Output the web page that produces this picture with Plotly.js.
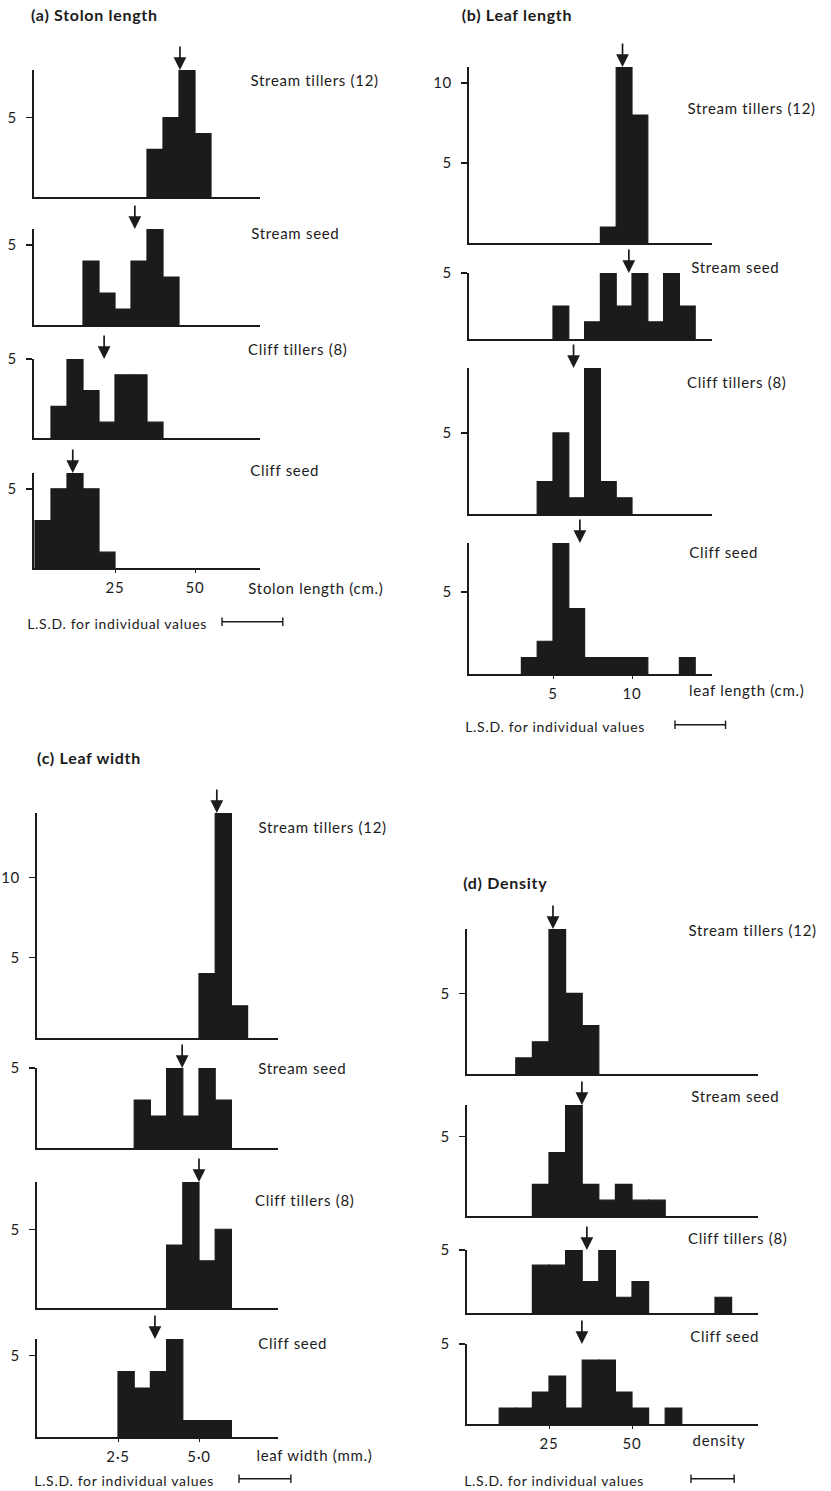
<!DOCTYPE html>
<html>
<head>
<meta charset="utf-8">
<script src="https://cdn.plot.ly/plotly-3.0.1.min.js"></script>
<style>
html,body{margin:0;padding:0;background:#fff}
#chart{width:831px;height:1491px}
#chart svg text{letter-spacing:0.7px}
</style>
</head>
<body>
<div id="chart"></div>
<script>
// ---------- DATA ----------
const panelTitles = ['(a) Stolon length', '(b) Leaf length', '(c) Leaf width', '(d) Density'];
const groupNames = ['Stream tillers (12)', 'Stream seed', 'Cliff tillers (8)', 'Cliff seed'];
const axisTitles = ['Stolon length (cm.)', 'leaf length (cm.)', 'leaf width (mm.)', 'density'];
const lsdLabel = 'L.S.D. for individual values';
const countTickVals = [5, 10];
const xTickVals = [[25, 50], [5, 10], [2.5, 5], [25, 50]];
const xTickText = [['25', '50'], ['5', '10'], ['2·5', '5·0'], ['25', '50']];
const binWidths = [5, 1, 0.5, 5];
const lsdValues = [19, 3.2, 1.6, 13];

// (a) Stolon length, bins of 5 cm (left edges) and counts
const stolonStreamTillersBins = [35, 40, 45, 50];
const stolonStreamTillersCounts = [3, 5, 8, 4];
const stolonStreamSeedBins = [15, 20, 25, 30, 35, 40];
const stolonStreamSeedCounts = [4, 2, 1, 4, 6, 3];
const stolonCliffTillersBins = [5, 10, 15, 20, 25, 30, 35];
const stolonCliffTillersCounts = [2, 5, 3, 1, 4, 4, 1];
const stolonCliffSeedBins = [0, 5, 10, 15, 20];
const stolonCliffSeedCounts = [3, 5, 6, 5, 1];
const stolonMeans = [45.3, 31.2, 21.6, 11.8];

// (b) Leaf length, bins of 1 cm
const leafLenStreamTillersBins = [8, 9, 10];
const leafLenStreamTillersCounts = [1, 11, 8];
const leafLenStreamSeedBins = [5, 7, 8, 9, 10, 11, 12, 13];
const leafLenStreamSeedCounts = [2.5, 1.3, 5, 2.5, 5, 1.3, 5, 2.5];
const leafLenCliffTillersBins = [4, 5, 6, 7, 8, 9];
const leafLenCliffTillersCounts = [2, 5, 1, 9, 2, 1];
const leafLenCliffSeedBins = [3, 4, 5, 6, 7, 8, 9, 10, 13];
const leafLenCliffSeedCounts = [1, 2, 8, 4, 1, 1, 1, 1, 1];
const leafLenMeans = [9.4, 9.8, 6.3, 6.7];

// (c) Leaf width, bins of 0.5 mm
const leafWidStreamTillersBins = [5.0, 5.5, 6.0];
const leafWidStreamTillersCounts = [4, 14, 2];
const leafWidStreamSeedBins = [3.0, 3.5, 4.0, 4.5, 5.0, 5.5];
const leafWidStreamSeedCounts = [3, 2, 5, 2, 5, 3];
const leafWidCliffTillersBins = [4.0, 4.5, 5.0, 5.5];
const leafWidCliffTillersCounts = [4, 8, 3, 5];
const leafWidCliffSeedBins = [2.5, 3.0, 3.5, 4.0, 4.5, 5.0, 5.5];
const leafWidCliffSeedCounts = [4, 3, 4, 6, 1, 1, 1];
const leafWidMeans = [5.55, 4.48, 5.0, 3.64];

// (d) Density, bins of 5
const densStreamTillersBins = [15, 20, 25, 30, 35];
const densStreamTillersCounts = [1, 2, 9, 5, 3];
const densStreamSeedBins = [20, 25, 30, 35, 40, 45, 50, 55];
const densStreamSeedCounts = [2, 4, 7, 2, 1, 2, 1, 1];
const densCliffTillersBins = [20, 25, 30, 35, 40, 45, 50, 75];
const densCliffTillersCounts = [3.8, 3.8, 5, 2.5, 5, 1.25, 2.5, 1.25];
const densCliffSeedBins = [10, 15, 20, 25, 30, 35, 40, 45, 50, 60];
const densCliffSeedCounts = [1, 1, 2, 3, 1, 4, 4, 2, 1, 1];
const densMeans = [26.2, 34.9, 36.4, 34.9];

const bins = [
  [stolonStreamTillersBins, stolonStreamSeedBins, stolonCliffTillersBins, stolonCliffSeedBins],
  [leafLenStreamTillersBins, leafLenStreamSeedBins, leafLenCliffTillersBins, leafLenCliffSeedBins],
  [leafWidStreamTillersBins, leafWidStreamSeedBins, leafWidCliffTillersBins, leafWidCliffSeedBins],
  [densStreamTillersBins, densStreamSeedBins, densCliffTillersBins, densCliffSeedBins]
];
const counts = [
  [stolonStreamTillersCounts, stolonStreamSeedCounts, stolonCliffTillersCounts, stolonCliffSeedCounts],
  [leafLenStreamTillersCounts, leafLenStreamSeedCounts, leafLenCliffTillersCounts, leafLenCliffSeedCounts],
  [leafWidStreamTillersCounts, leafWidStreamSeedCounts, leafWidCliffTillersCounts, leafWidCliffSeedCounts],
  [densStreamTillersCounts, densStreamSeedCounts, densCliffTillersCounts, densCliffSeedCounts]
];
const means = [stolonMeans, leafLenMeans, leafWidMeans, densMeans];

// ---------- LAYOUT GEOMETRY (pixels) ----------
const W = 831, H = 1491;
const FONT = 'Lato, "Open Sans", "DejaVu Sans", sans-serif';
const INK = '#1b1b1b';
const geom = [
  { xPx: [34, 260], zeroPx: 35, ppu: 3.2, rows: [[197, 70], [325, 229], [438, 359], [568, 473]], yMax: [8, 6, 5, 6],
    title: [35, 15], labels: [[255, 80], [253, 233], [252, 349], [252, 470]], axisTitle: [253, 588], lsdText: [35, 623], lsdStart: 222, lsdRight: 415 },
  { xPx: [469, 712], zeroPx: 474, ppu: 15.8, rows: [[243, 67], [339, 273], [514, 368], [674, 543]], yMax: [11, 5, 9, 8],
    title: [465, 15], labels: [[692, 108], [693, 267], [691, 382], [691, 552]], axisTitle: [693, 690], lsdText: [473, 726], lsdStart: 675, lsdRight: 830 },
  { xPx: [37, 278], zeroPx: 37, ppu: 32.4, rows: [[1038, 813], [1148, 1068], [1308, 1182], [1437, 1339]], yMax: [14, 5, 8, 6],
    title: [40, 757], labels: [[263, 827], [260, 1068], [259, 1200], [260, 1343]], axisTitle: [260, 1455], lsdText: [42, 1480], lsdStart: 239, lsdRight: 415 },
  { xPx: [467, 758], zeroPx: 466, ppu: 3.32, rows: [[1074, 929], [1216, 1105], [1313, 1250], [1424, 1344]], yMax: [9, 7, 5, 5],
    title: [465, 882], labels: [[693, 930], [693, 1096], [692, 1238], [692, 1336]], axisTitle: [693, 1440], lsdText: [472, 1480], lsdStart: 691, lsdRight: 830 }
];

const traces = [];
const layout = {
  width: W, height: H, margin: { l: 0, r: 0, t: 0, b: 0 },
  paper_bgcolor: '#ffffff', plot_bgcolor: 'rgba(0,0,0,0)',
  showlegend: false, hovermode: false,
  font: { family: FONT, color: INK, size: 14 },
  annotations: []
};
const px = v => v / W;
const py = v => 1 - v / H;
let n = 0;

geom.forEach((g, p) => {
  const xr = [(g.xPx[0] - g.zeroPx) / g.ppu, (g.xPx[1] - g.zeroPx) / g.ppu];
  layout.annotations.push({ xref: 'paper', yref: 'paper', x: px(g.title[0]), y: py(g.title[1]), xanchor: 'left', yanchor: 'middle',
    text: '<b>' + panelTitles[p] + '</b>', showarrow: false, font: { size: 16 } });
  g.rows.forEach(([base, top], r) => {
    n++;
    const sfx = n === 1 ? '' : String(n);
    const xs = 'x' + sfx, ys = 'y' + sfx;
    const last = r === 3;
    traces.push({ type: 'bar', x: bins[p][r], y: counts[p][r], width: binWidths[p], offset: 0,
      xaxis: xs, yaxis: ys, marker: { color: INK, line: { color: INK, width: 1.2 } } });
    layout['xaxis' + sfx] = { domain: [px(g.xPx[0]), px(g.xPx[1])], range: xr, anchor: ys,
      showline: true, linecolor: INK, linewidth: 2, showgrid: false, zeroline: false,
      ticks: last ? 'outside' : '', ticklen: 3, tickwidth: 1, tickcolor: INK,
      tickmode: 'array', tickvals: last ? xTickVals[p] : [], ticktext: last ? xTickText[p] : [],
      showticklabels: last, tickfont: { size: 15 }, ticklabelstandoff: 2, fixedrange: true };
    layout['yaxis' + sfx] = { domain: [py(base), py(top)], range: [0, g.yMax[r]], anchor: xs,
      showline: true, linecolor: INK, linewidth: 2, showgrid: false, zeroline: false,
      ticks: 'outside', ticklen: 6, tickwidth: 1.5, tickcolor: INK,
      tickmode: 'array', tickvals: countTickVals.filter(v => v <= g.yMax[r]),
      tickfont: { size: 15 }, ticklabelstandoff: 6, fixedrange: true };
    layout.annotations.push({ xref: xs, yref: ys + ' domain', x: means[p][r], y: 1, ax: 0, ay: -25,
      showarrow: true, arrowhead: 2, arrowsize: 1.5, arrowwidth: 1.7, arrowcolor: INK, text: '', standoff: 0 });
    layout.annotations.push({ xref: 'paper', yref: 'paper', x: px(g.labels[r][0]), y: py(g.labels[r][1]),
      xanchor: 'left', yanchor: 'middle', text: groupNames[r], showarrow: false, font: { size: 15 } });
  });
  layout.annotations.push({ xref: 'paper', yref: 'paper', x: px(g.axisTitle[0]), y: py(g.axisTitle[1]),
    xanchor: 'left', yanchor: 'middle', text: axisTitles[p], showarrow: false, font: { size: 15 } });
  layout.annotations.push({ xref: 'paper', yref: 'paper', x: px(g.lsdText[0]), y: py(g.lsdText[1]),
    xanchor: 'left', yanchor: 'middle', text: lsdLabel, showarrow: false, font: { size: 14 } });
  // LSD scale bar on its own hidden axis with the panel's scale
  const k = 17 + p;
  layout['xaxis' + k] = { domain: [px(g.xPx[0]), px(g.lsdRight)],
    range: [(g.xPx[0] - g.zeroPx) / g.ppu, (g.lsdRight - g.zeroPx) / g.ppu], visible: false, anchor: 'y' + k, fixedrange: true };
  layout['yaxis' + k] = { domain: [py(g.lsdText[1] + 8), py(g.lsdText[1] - 8)], range: [-1, 1], visible: false, anchor: 'x' + k, fixedrange: true };
  const s = (g.lsdStart - g.zeroPx) / g.ppu;
  traces.push({ type: 'scatter', mode: 'lines+markers', x: [s, s + lsdValues[p]], y: [0.15, 0.15],
    xaxis: 'x' + k, yaxis: 'y' + k, cliponaxis: false,
    line: { color: INK, width: 1.6 }, marker: { symbol: 'line-ns', size: 6, line: { color: INK, width: 1.4 } } });
});

Plotly.newPlot('chart', traces, layout, { staticPlot: true, displayModeBar: false });
</script>
</body>
</html>
